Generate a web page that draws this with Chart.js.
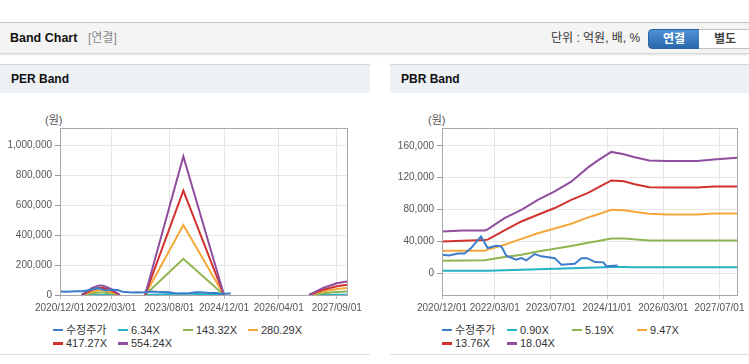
<!DOCTYPE html>
<html>
<head>
<meta charset="utf-8">
<script src="https://cdn.jsdelivr.net/npm/chart.js@4.4.0/dist/chart.umd.min.js"></script>
<style>
  body { margin: 0; width: 749px; height: 364px; background: #fff; position: relative; overflow: hidden;
         font-family: "Liberation Sans", Arial, "Noto Sans CJK KR", sans-serif; }
  .hd { position: absolute; left: 0; top: 22px; width: 749px; height: 30px; background: #f4f4f4;
        border-top: 1px solid #c4c4c4; border-bottom: 1px solid #d8d8d8; box-shadow: 0 1px 2px rgba(0,0,0,.12); }
  .hd .t { position: absolute; left: 10px; top: 0; line-height: 30px; font-size: 12.5px; font-weight: bold; color: #111; }
  .hd .s { position: absolute; left: 88px; top: 0; line-height: 30px; font-size: 12px; color: #8a8a8a; }
  .hd .u { position: absolute; left: 551px; top: 0; line-height: 30px; font-size: 12px; color: #333; }
  .btn { position: absolute; top: 6px; height: 18px; line-height: 18px; text-align: center; font-size: 12px; font-weight: bold; }
  .b1 { left: 648px; width: 50px; color: #fff; background: linear-gradient(#4f91d6, #2a68ad); border: 1px solid #2a62a0; border-radius: 4px 0 0 4px; }
  .b2 { left: 699px; width: 52px; color: #444; background: #fff; border: 1px solid #c3c3c3; border-left: 0; }
  .panel { position: absolute; top: 64px; height: 289px; border-top: 1px solid #d6d6d6; border-bottom: 1px solid #dcdcdc; }
  .panel .ttl { height: 28px; line-height: 28px; background: #edf1f6; padding-left: 11px; font-size: 12px; font-weight: bold; color: #111; }
  .unit { position: absolute; top: 46px; font-size: 11px; color: #555; }
  .cv { position: absolute; top: 35px; }
  .lg { position: absolute; top: 259px; width: 270px; display: flex; flex-wrap: wrap; }
  .li { display: block; width: 65px; height: 13.3px; line-height: 13.3px; font-size: 11px; color: #333; white-space: nowrap; }
  .li i { display: inline-block; width: 10px; height: 2.5px; margin-right: 3px; vertical-align: middle; position: relative; top: -1px; }
</style>
</head>
<body>
<div class="hd">
  <span class="t">Band Chart</span><span class="s">[연결]</span>
  <span class="u">단위 : 억원, 배, %</span>
  <div class="btn b1">연결</div><div class="btn b2">별도</div>
</div>

<div class="panel" style="left:0;width:370px">
  <div class="ttl">PER Band</div>
  <div class="unit" style="left:45px">(원)</div>
  <div class="cv" style="left:0"><canvas id="per" width="370" height="220"></canvas></div>
  <div class="lg" id="perLegend" style="left:53px"></div>
</div>

<div class="panel" style="left:390px;width:359px">
  <div class="ttl">PBR Band</div>
  <div class="unit" style="left:38px">(원)</div>
  <div class="cv" style="left:0"><canvas id="pbr" width="359" height="220"></canvas></div>
  <div class="lg" id="pbrLegend" style="left:52px"></div>
</div>

<script>
// x positions are months counted from 2020/12
const colors = ['#3d7cc9', '#25b3c7', '#8fb550', '#f4a73a', '#d2322d', '#8f4f9e'];

const perLabels = ['수정주가', '6.34X', '143.32X', '280.29X', '417.27X', '554.24X'];
const pbrLabels = ['수정주가', '0.90X', '5.19X', '9.47X', '13.76X', '18.04X'];

const perTickMonths = [0, 15, 32, 48, 64, 81];
const perTickLabels = ['2020/12/01', '2022/03/01', '2023/08/01', '2024/12/01', '2026/04/01', '2027/09/01'];
const pbrTickMonths = [0, 15, 31, 47, 63, 79];
const pbrTickLabels = ['2020/12/01', '2022/03/01', '2023/07/01', '2024/11/01', '2026/03/01', '2027/07/01'];

// 수정주가 (same series on both charts)
const priceMonths = [0, 2, 4.5, 6.4, 8.3, 11.1, 13, 15.4, 16.9, 18.3, 21.1, 22.6, 24, 26.4, 28.3, 32.1, 34, 37.8, 39.7, 41.3, 43.6, 46, 46.8, 50];
const priceValues = [23000, 22000, 24500, 24500, 31400, 46000, 31400, 34300, 33500, 21800, 16700, 18700, 16000, 23900, 21000, 18700, 10400, 11600, 18700, 18700, 13800, 13400, 8400, 9600];

// PER bands (null = no band, EPS below zero)
const perBandMonths = [6.3, 9.4, 11.5, 12.7, 15.1, 17.5, 21, 24.9, 36.1, 48, 60, 72.9, 77, 81, 84];
const per634   = [0, 500, 700, 700, 460, 0, null, 0, 10600, 0, null, 0, 540, 900, 1040];
const per14332 = [0, 12000, 16000, 16000, 10000, 0, null, 0, 242000, 0, null, 0, 12000, 20000, 23500];
const per28029 = [0, 24000, 32000, 31000, 20000, 0, null, 0, 467000, 0, null, 0, 24000, 39500, 46000];
const per41727 = [0, 35000, 48000, 47000, 30000, 0, null, 0, 697000, 0, null, 0, 35000, 59000, 68000];
const per55424 = [0, 47000, 64000, 62000, 40000, 0, null, 0, 925000, 0, null, 0, 47000, 78000, 91000];

// PBR bands
const pbrBandMonths = [0, 6, 12.2, 13, 17.8, 22.6, 27.3, 32.1, 36.8, 41.6, 44.1, 48.2, 51.8, 54.6, 59, 64, 72.7, 77.4, 84];
const pbr090  = [2800, 2800, 2800, 2900, 3600, 4200, 4800, 5400, 6000, 6600, 7000, 7600, 7500, 7300, 7100, 7100, 7100, 7200, 7200];
const pbr519  = [15500, 15800, 16200, 16600, 20100, 23000, 27000, 30500, 34000, 38000, 40000, 43500, 43500, 42500, 41000, 41000, 41000, 41000, 41000];
const pbr947  = [28000, 28000, 28000, 29500, 35600, 43000, 50000, 56000, 62000, 70000, 73400, 79600, 79000, 77000, 74500, 73800, 73800, 75000, 75000];
const pbr1376 = [39700, 40500, 41500, 42000, 53600, 64900, 73300, 81800, 92200, 101000, 106900, 116500, 115500, 112000, 108000, 107800, 107800, 109000, 109000];
const pbr1804 = [52300, 53500, 53500, 55000, 69000, 79600, 92200, 102700, 115000, 133000, 140900, 152500, 149500, 146000, 141800, 141000, 141000, 143000, 145000];

function pts(xs, ys) {
    return xs.map((x, i) => ({ x: x, y: ys[i] }));
}

const frame = {
    id: 'frame',
    afterDraw(chart) {
        const a = chart.chartArea, ctx = chart.ctx;
        ctx.save();
        ctx.strokeStyle = '#a9a9a9';
        ctx.lineWidth = 1;
        ctx.strokeRect(Math.round(a.left) + 0.5, Math.round(a.top) + 0.5, Math.round(a.right - a.left), Math.round(a.bottom - a.top));
        ctx.restore();
    }
};

function bandChart(id, labels, series, tickMonths, tickLabels, yMin, yMax, yStep, axisWidth, padRight) {
    const datasets = series.map((s, i) => ({
        label: labels[i],
        data: s,
        borderColor: colors[i],
        backgroundColor: colors[i],
        borderWidth: 2,
        pointRadius: 0,
        tension: 0,
        spanGaps: false,
        order: i === 0 ? 0 : 6 - i
    }));
    const tickFont = { family: '"Liberation Sans", Arial', size: 10 };
    return new Chart(document.getElementById(id), {
        type: 'line',
        data: { datasets: datasets },
        plugins: [frame],
        options: {
            animation: false,
            responsive: false,
            layout: { padding: { top: 28, right: padRight, bottom: 0, left: 0 } },
            plugins: { legend: { display: false }, tooltip: { enabled: false } },
            scales: {
                x: {
                    type: 'linear', min: 0, max: 84,
                    afterBuildTicks: (s) => { s.ticks = tickMonths.map(v => ({ value: v })); },
                    afterFit: (s) => { s.height = 25; },
                    ticks: {
                        autoSkip: false, maxRotation: 0, color: '#555', font: tickFont, padding: 3,
                        callback: (v) => tickLabels[tickMonths.indexOf(v)]
                    },
                    grid: { color: '#e6e6e6', tickColor: '#bbb', tickLength: 4 },
                    border: { color: '#a9a9a9' }
                },
                y: {
                    type: 'linear', min: yMin, max: yMax,
                    afterBuildTicks: (s) => {
                        const t = [];
                        for (let v = 0; v <= yMax; v += yStep) t.push({ value: v });
                        s.ticks = t;
                    },
                    afterFit: (s) => { s.width = axisWidth; },
                    ticks: {
                        color: '#555', font: tickFont, padding: 3,
                        callback: (v) => v.toLocaleString('en-US')
                    },
                    grid: { color: '#e6e6e6', tickColor: '#999', tickLength: 5 },
                    border: { color: '#a9a9a9' }
                }
            }
        }
    });
}

bandChart('per', perLabels, [
    pts(priceMonths, priceValues),
    pts(perBandMonths, per634),
    pts(perBandMonths, per14332),
    pts(perBandMonths, per28029),
    pts(perBandMonths, per41727),
    pts(perBandMonths, per55424)
], perTickMonths, perTickLabels, 0, 1115000, 200000, 60, 23);

bandChart('pbr', pbrLabels, [
    pts(priceMonths, priceValues),
    pts(pbrBandMonths, pbr090),
    pts(pbrBandMonths, pbr519),
    pts(pbrBandMonths, pbr947),
    pts(pbrBandMonths, pbr1376),
    pts(pbrBandMonths, pbr1804)
], pbrTickMonths, pbrTickLabels, -27700, 182600, 40000, 52, 12);

function buildLegend(elId, labels) {
    const el = document.getElementById(elId);
    labels.forEach((t, i) => {
        const item = document.createElement('span');
        item.className = 'li';
        const mark = document.createElement('i');
        mark.style.background = colors[i];
        item.appendChild(mark);
        item.appendChild(document.createTextNode(t));
        el.appendChild(item);
    });
}
buildLegend('perLegend', perLabels);
buildLegend('pbrLegend', pbrLabels);
</script>
</body>
</html>
